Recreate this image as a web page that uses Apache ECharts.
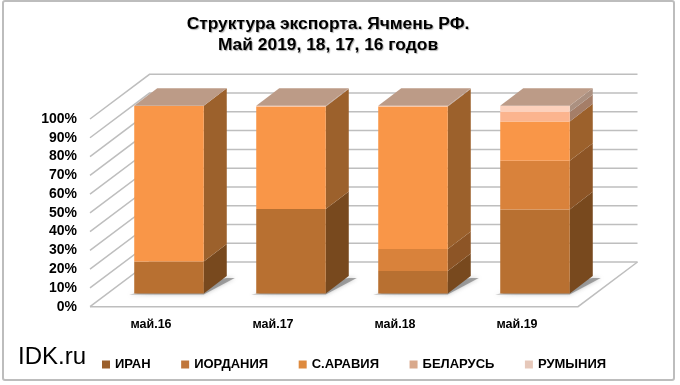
<!DOCTYPE html>
<html><head><meta charset="utf-8">
<style>html,body{margin:0;padding:0;background:#fff}#c{width:680px;height:385px}</style>
<script src="https://cdn.jsdelivr.net/npm/echarts@6/dist/echarts.min.js"></script>
</head><body><div id="c"></div>
<script>
const categories = ['май.16','май.17','май.18','май.19'];
const iran     = [17, 45, 12, 44.8];
const jordan   = [0, 0, 11.7, 25.9];
const saudi    = [83, 54.6, 75.9, 21];
const belarus  = [0, 0.2, 0.2, 5];
const romania  = [0, 0.2, 0.2, 3.3];
const seriesNames = ['ИРАН','ИОРДАНИЯ','С.АРАВИЯ','БЕЛАРУСЬ','РУМЫНИЯ'];
const seriesValues = [iran, jordan, saudi, belarus, romania];
const yTicks = [0,10,20,30,40,50,60,70,80,90,100];
const frontColors = ['#B87031','#D9823B','#F99648','#FBB48E','#FCD1BC'];
const sideColors  = ['#78491E','#8D5526','#9C612C','#A57E68','#AB9080'];
const legendColors = ['#9A5F2C','#C0763A','#DE8A3E','#D9A98C','#E6C8BA'];
const topColor = '#BC9B87';
const gridColor = '#BEBEBE';
const wallDx = 59.5, wallDy = -44.7;
const barShiftX = 18, barShiftY = -13.2;
const barDx = 23, barDy = -17.6;

function barItem(si){
  return function(params, api){
    const i = params.dataIndex;
    let base = 0;
    for (let k=0;k<si;k++) base += seriesValues[k][i];
    const val = seriesValues[si][i];
    const bw = api.size([1,0])[0]*0.57;
    const p0 = api.coord([i, base]), p1 = api.coord([i, base+val]);
    const xl = p0[0]+barShiftX-bw/2, xr = xl+bw;
    const yb = p0[1]+barShiftY, yt = p1[1]+barShiftY;
    const ch = [];
    if (si===0){
      ch.push({type:'polygon',shape:{points:[[xl-5,yb+1],[xr,yb+1],[xr+barDx+8,yb+barDy+2],[xr+barDx,yb+barDy+2]]},
        style:{fill:'rgba(120,120,120,.65)',shadowBlur:4,shadowColor:'rgba(110,110,110,.6)'},silent:true});
    }
    if (val>0){
      ch.push({type:'polygon',shape:{points:[[xr,yb],[xr+barDx,yb+barDy],[xr+barDx,yt+barDy],[xr,yt]]},style:{fill:sideColors[si]}});
      ch.push({type:'rect',shape:{x:xl,y:yt,width:bw,height:yb-yt},style:{fill:frontColors[si]}});
    }
    if (si===seriesValues.length-1){
      ch.push({type:'polygon',shape:{points:[[xl,yt],[xr,yt],[xr+barDx,yt+barDy],[xl+barDx,yt+barDy]]},style:{fill:topColor}});
    }
    return {type:'group',children:ch};
  };
}
function wallItem(params, api){
  const v = api.value(0);
  const c = api.coord([0,v]);
  const cs = params.coordSys;
  const x0 = cs.x, x1 = cs.x+cs.width, y = c[1];
  const st = {stroke:gridColor,lineWidth:1.5,fill:'none'};
  const ch = [{type:'polyline',shape:{points:[[x0,y],[x0+wallDx,y+wallDy],[x1+wallDx,y+wallDy]]},style:st}];
  if (v===0) ch.push({type:'polyline',shape:{points:[[x0,y],[x1,y],[x1+wallDx,y+wallDy]]},style:st});
  return {type:'group',children:ch};
}
const series = [{type:'custom',name:'wall',renderItem:wallItem,data:yTicks.map(v=>[v]),encode:{y:0},clip:false,silent:true,z:1}];
seriesNames.forEach((n,si)=>{
  series.push({type:'custom',name:n,renderItem:barItem(si),clip:false,z:2,
    itemStyle:{color:legendColors[si]},
    data:categories.map((c,i)=>[i,seriesValues[si][i]]),encode:{x:0,y:1}});
});
const chart = echarts.init(document.getElementById('c'),null,{renderer:'canvas'});
chart.setOption({
  animation:false,
  backgroundColor:'#fff',
  title:{text:'Структура экспорта. Ячмень РФ.\nМай 2019, 18, 17, 16 годов',left:323,top:9,textAlign:'center',
    textStyle:{fontFamily:'Liberation Sans',fontWeight:'bold',fontSize:17.4,lineHeight:21,color:'#000',
      textShadowColor:'rgba(0,0,0,.3)',textShadowBlur:1,textShadowOffsetX:1,textShadowOffsetY:1}},
  grid:{left:90,top:119,width:488,height:187.7},
  xAxis:{type:'category',data:categories,axisLine:{show:false},axisTick:{show:false},splitLine:{show:false},
    axisLabel:{margin:11,fontFamily:'Liberation Sans',fontWeight:'bold',fontSize:12.5,color:'#000'}},
  yAxis:{type:'value',min:0,max:100,interval:10,splitLine:{show:false},axisLine:{show:false},axisTick:{show:false},
    axisLabel:{margin:13,formatter:'{value}%',fontFamily:'Liberation Sans',fontWeight:'bold',fontSize:14,color:'#000'}},
  legend:{data:seriesNames,left:97,top:353,itemWidth:8,itemHeight:8,itemGap:30.5,icon:'rect',
    textStyle:{fontFamily:'Liberation Sans',fontWeight:'bold',fontSize:13,color:'#000'}},
  graphic:[
    {type:'rect',z:-1,shape:{x:3,y:1,width:671,height:379,r:2},style:{fill:'#fff',stroke:'#BDBDBD',lineWidth:2}},
    {type:'text',x:18,y:345,style:{text:'IDK.ru',font:'24px "Liberation Sans"',fill:'#000'}}
  ],
  series
});
</script></body></html>
